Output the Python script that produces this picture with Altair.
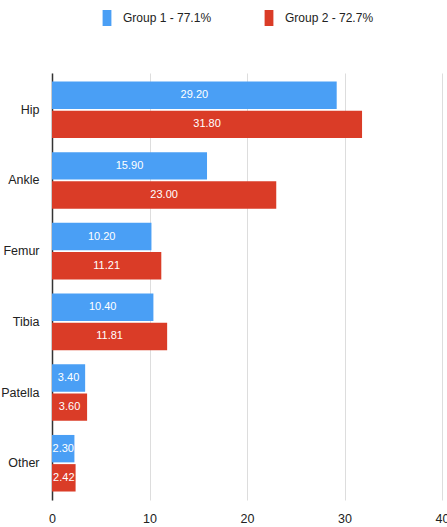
import altair as alt
import pandas as pd

categories = ["Hip", "Ankle", "Femur", "Tibia", "Patella", "Other"]
group1 = [29.20, 15.90, 10.20, 10.40, 3.40, 2.30]
group2 = [31.80, 23.00, 11.21, 11.81, 3.60, 2.42]
groups = ["Group 1 - 77.1%", "Group 2 - 72.7%"]
x_ticks = [0, 10, 20, 30, 40]

rows = []
for c, a, b in zip(categories, group1, group2):
    rows.append({"cat": c, "group": groups[0], "value": a})
    rows.append({"cat": c, "group": groups[1], "value": b})
df = pd.DataFrame(rows)

FONT = "Liberation Sans, Arial, sans-serif"

color = alt.Color(
    "group:N",
    scale=alt.Scale(domain=groups, range=["#4a9ff5", "#da3c27"]),
    legend=alt.Legend(
        title=None,
        orient="none",
        legendX=47,
        legendY=-63,
        direction="horizontal",
        symbolType="M-0.55,-1L0.55,-1L0.55,1L-0.55,1Z",
        symbolSize=256,
        symbolStrokeWidth=0,
        labelFont=FONT,
        labelFontSize=12,
        labelColor="#222",
        columnPadding=49,
        labelOffset=8,
    ),
)

y = alt.Y(
    "cat:N",
    sort=categories,
    scale=alt.Scale(paddingInner=0.2, paddingOuter=0.12),
    axis=alt.Axis(
        title=None,
        ticks=False,
        labelPadding=13,
        labelFont=FONT,
        labelFontSize=12.5,
        labelColor="#222",
        domainColor="#333",
        domainWidth=1.5,
    ),
)
yoff = alt.YOffset("group:N", sort=groups, scale=alt.Scale(paddingInner=0.06))

x = alt.X(
    "value:Q",
    scale=alt.Scale(domain=[0, 40], nice=False),
    axis=alt.Axis(
        title=None,
        values=x_ticks,
        ticks=False,
        domain=False,
        grid=True,
        gridColor="#dddddd",
        labelPadding=12,
        labelFont=FONT,
        labelFontSize=12.5,
        labelColor="#222",
        labelFlush=False,
    ),
)

base = alt.Chart(df)
bars = base.mark_bar().encode(y=y, yOffset=yoff, x=x, color=color)
labels = base.transform_calculate(mid="datum.value / 2").mark_text(
    color="white", font=FONT, fontSize=11, align="center", baseline="middle"
).encode(
    y=alt.Y("cat:N", sort=categories),
    yOffset=alt.YOffset("group:N", sort=groups),
    x=alt.X("mid:Q"),
    text=alt.Text("value:Q", format=".2f"),
)

chart = (
    alt.layer(bars, labels)
    .properties(
        width=390,
        height=427,
        autosize=alt.AutoSizeParams(type="none"),
        padding={"left": 52, "top": 73, "right": 5, "bottom": 27},
        background="white",
    )
    .configure_view(stroke=None)
)

chart.save("out.html", embed_options={"renderer": "svg", "actions": False})
